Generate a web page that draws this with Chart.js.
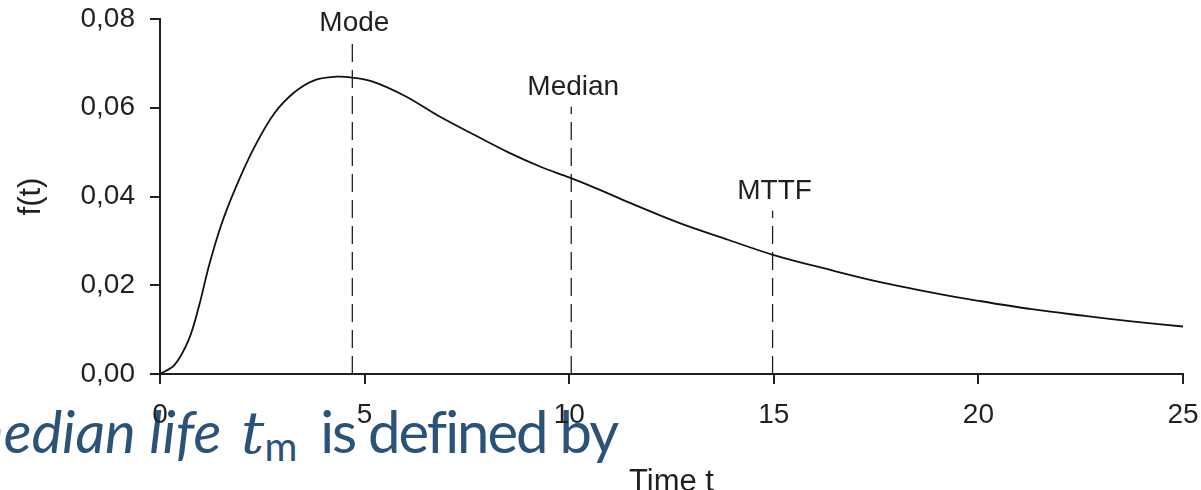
<!DOCTYPE html>
<html>
<head>
<meta charset="utf-8">
<script src="https://cdn.jsdelivr.net/npm/chart.js@4"></script>
<style>
  body { margin: 0; background: #fff; }
  #wrap { position: relative; width: 1201px; height: 490px; overflow: hidden; }
  #chart-box { position: absolute; left: 0; top: 0; width: 1201px; height: 490px; z-index: 1; }
  #caption {
    position: absolute; left: -42px; top: 402px; z-index: 0;
    font-family: Lato, 'Open Sans', sans-serif; font-size: 58px; color: #2b5278;
    white-space: nowrap; line-height: 1;
  }
  #caption .em { font-style: italic; }
  #caption .t { font-family: 'DejaVu Serif', serif; font-style: italic; margin-left: 5px; }
  #caption .rest { letter-spacing: -2px; margin-left: 8px; }
  #caption sub { font-size: 40px; vertical-align: -8px; line-height: 0; }
</style>
</head>
<body>
<div id="wrap">
  <div id="caption"><span class="em">median life</span> <span class="t">t</span><sub>m</sub> <span class="rest">is defined by</span></div>
  <div id="chart-box"><canvas id="chart-density"></canvas></div>
</div>
<script>
const ctx = document.getElementById('chart-density');

// 시간 (x), 밀도 f(t) (y) - 그림에서 읽은 값
const times = [0, 0.35, 0.7, 0.95, 1.2, 1.5, 1.85, 2.3, 2.8, 3.3, 3.8, 4.3, 4.7, 5.2, 6.0, 6.8, 7.7, 8.5, 9.3, 10.0, 10.75, 11.5, 12.7, 13.9, 15.0, 16.4, 17.6, 18.9, 20.0, 21.3, 22.6, 23.8, 25.0];
const density = [0, 0.0020, 0.0077, 0.0152, 0.0245, 0.0337, 0.0420, 0.0510, 0.0588, 0.0636, 0.0663, 0.0670, 0.0668, 0.0659, 0.0626, 0.0582, 0.0538, 0.0500, 0.0467, 0.0443, 0.0415, 0.0385, 0.0340, 0.0302, 0.0268, 0.0234, 0.0207, 0.0183, 0.0165, 0.0146, 0.0131, 0.0118, 0.0107];

// 점선 표시 (Mode, Median, MTTF)
const markerNames = ['Mode', 'Median', 'MTTF'];
const markerTimes = [4.7, 10.05, 14.97];
const markerTops = [0.0746, 0.0602, 0.0368];

const yTickLabels = ['0,00', '0,02', '0,04', '0,06', '0,08'];
const xTickLabels = ['0', '5', '10', '15', '20', '25'];

const ink = '#231f20';
Chart.defaults.font.family = "'Liberation Sans', Arial, sans-serif";
Chart.defaults.font.size = 28;
Chart.defaults.color = ink;

const markerSets = markerNames.map((name, i) => ({
    label: name,
    data: [{x: markerTimes[i], y: 0}, {x: markerTimes[i], y: markerTops[i]}],
    borderColor: ink,
    borderWidth: 1.3,
    borderDash: [18, 8],
    pointRadius: 0
}));

// 점선 위의 글자
const markerText = {
    id: 'markerText',
    afterDatasetsDraw(chart) {
        const c = chart.ctx;
        const xs = chart.scales.x, ys = chart.scales.y;
        c.save();
        c.font = "28px 'Liberation Sans', Arial, sans-serif";
        c.fillStyle = ink;
        c.textAlign = 'center';
        c.textBaseline = 'alphabetic';
        markerNames.forEach((name, i) => {
            c.fillText(name, xs.getPixelForValue(markerTimes[i]) + 2, ys.getPixelForValue(markerTops[i]) - 12);
        });
        c.restore();
    }
};

const config = {
    type: 'line',
    data: {
        datasets: [
            {
                label: 'f(t)',
                data: times.map((t, i) => ({x: t, y: density[i]})),
                borderColor: '#111',
                borderWidth: 1.8,
                pointRadius: 0,
                tension: 0.35
            },
            ...markerSets
        ]
    },
    options: {
        responsive: true,
        maintainAspectRatio: false,
        animation: false,
        layout: { padding: { top: 19, right: 18, left: 0, bottom: 0 } },
        plugins: {
            legend: { display: false },
            tooltip: { enabled: false }
        },
        scales: {
            x: {
                type: 'linear',
                min: 0,
                max: 25,
                ticks: {
                    stepSize: 5,
                    padding: 14,
                    maxRotation: 0,
                    callback: (v, i) => xTickLabels[i]
                },
                grid: { drawOnChartArea: false, drawTicks: true, tickLength: 10, color: ink, lineWidth: 2 },
                border: { display: true, color: ink, width: 2 },
                title: { display: true, text: 'Time t', font: { size: 31, lineHeight: 1 }, padding: { top: 0, bottom: -8 } },
                afterFit: (s) => { s.height = 116; s.paddingLeft = 0; s.paddingRight = 0; }
            },
            y: {
                min: 0,
                max: 0.08,
                ticks: {
                    stepSize: 0.02,
                    padding: 15,
                    callback: (v, i) => yTickLabels[i]
                },
                grid: { drawOnChartArea: false, drawTicks: true, tickLength: 10, color: ink, lineWidth: 2 },
                border: { display: true, color: ink, width: 2 },
                title: { display: true, text: 'f(t)', font: { size: 31, lineHeight: 1 }, padding: { top: 16, bottom: 0 } },
                afterFit: (s) => { s.width = 160; s.paddingTop = 0; s.paddingBottom = 0; }
            }
        }
    },
    plugins: [markerText]
};

const chart = new Chart(ctx, config);
</script>
</body>
</html>
